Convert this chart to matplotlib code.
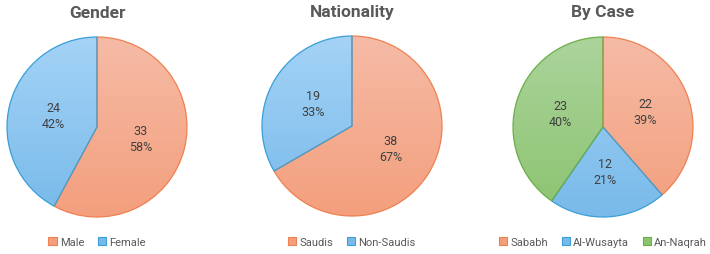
import numpy as np
import matplotlib
matplotlib.use("Agg")
import matplotlib.pyplot as plt
from matplotlib.colors import LinearSegmentedColormap
from matplotlib.patches import Patch

plt.rcParams['font.family'] = ['Roboto', 'DejaVu Sans']

# data
titles = ["Gender", "Nationality", "By Case"]
gender_labels = ["Male", "Female"]
gender_values = [33, 24]
nat_labels = ["Saudis", "Non-Saudis"]
nat_values = [38, 19]
case_labels = ["Sababh", "Al-Wusayta", "An-Naqrah"]
case_values = [22, 12, 23]

# (top colour, bottom colour, edge colour)
orange = ("#F6BBA6", "#F39F7D", "#EE8151")
blue = ("#A4D3F6", "#78BAEA", "#3A9FD8")
green = ("#ABD49C", "#8CC36F", "#6AAF4A")

charts = [
    (gender_labels, gender_values, [orange, blue]),
    (nat_labels, nat_values, [orange, blue]),
    (case_labels, case_values, [orange, blue, green]),
]

W, H = 710, 255
fig = plt.figure(figsize=(W / 100, H / 100), dpi=100)

centers = [(97, 128), (352, 127), (603, 128)]
R = 90
lim = 1.05
title_col = "#595959"
label_col = "#404040"

for (labels, values, cols), (cx, cy), title in zip(charts, centers, titles):
    half = R * lim
    ax = fig.add_axes([(cx - half) / W, (H - cy - half) / H, 2 * half / W, 2 * half / H])
    total = sum(values)
    wedges, _ = ax.pie(values, startangle=90, counterclock=False, radius=1,
                       wedgeprops=dict(linewidth=0.9))
    # vertical gradient fill, clipped to each wedge
    grad = np.linspace(0, 1, 256).reshape(-1, 1)
    for w, (top, bot, edge), v in zip(wedges, cols, values):
        cmap = LinearSegmentedColormap.from_list("g", [top, bot])
        im = ax.imshow(grad, cmap=cmap, extent=(-1, 1, -1, 1), origin="upper",
                       aspect="auto", zorder=1)
        im.set_clip_path(w)
        w.set_facecolor("none")
        w.set_edgecolor(edge)
        w.set_zorder(2)
        ang = np.deg2rad((w.theta1 + w.theta2) / 2)
        ax.text(0.5 * np.cos(ang), 0.5 * np.sin(ang),
                f"{v}\n{round(100 * v / total)}%", ha="center", va="center",
                fontsize=9, color=label_col, linespacing=1.3, zorder=3)
    ax.set_xlim(-lim, lim)
    ax.set_ylim(-lim, lim)
    ax.set_axis_off()

    fig.text(cx / W, 1 - 13 / H, title, ha="center", va="center",
             fontsize=12.5, fontweight="bold", color=title_col)

    handles = [Patch(facecolor=c[1], edgecolor=c[2], linewidth=0.8) for c in cols]
    fig.legend(handles, labels, loc="center", bbox_to_anchor=(cx / W, 1 - 243 / H),
               ncol=len(labels), frameon=False, fontsize=8, labelcolor=title_col,
               handlelength=0.75, handleheight=0.75, handletextpad=0.3,
               columnspacing=1.2, borderpad=0)

fig.savefig("out.png", dpi=100, facecolor="white")
